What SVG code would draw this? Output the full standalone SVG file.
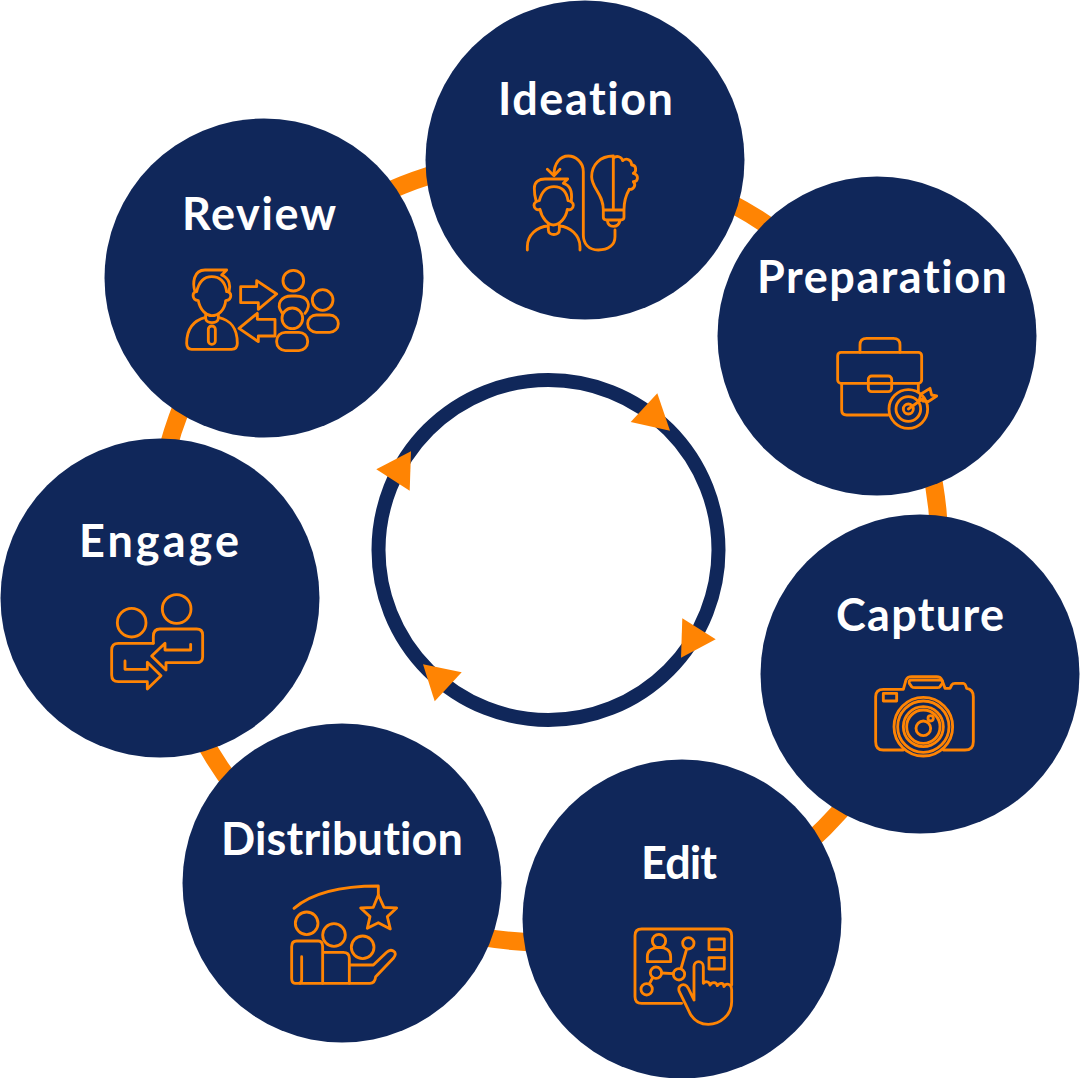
<svg xmlns="http://www.w3.org/2000/svg" width="1080" height="1078" viewBox="0 0 1080 1078">
<style>
.disc{fill:#10275a}
.lbl{font-family:"Lato","Open Sans",sans-serif;font-weight:700;font-size:45px;fill:#fff;font-variant-ligatures:none}
.ico{fill:none;stroke:#ff8403;stroke-width:8.5;stroke-linecap:round;stroke-linejoin:round}
.tri{fill:#ff8403}
</style>
<rect width="1080" height="1078" fill="#fff"/>
<g id="connectors">
<circle cx="547" cy="550" r="392.5" fill="none" stroke="#ff8403" stroke-width="18"/>
<circle cx="548.5" cy="550" r="170" fill="none" stroke="#10275a" stroke-width="14"/>
<polygon class="tri" points="657.3,393.3 630.7,422 670,430.7"/>
<polygon class="tri" points="682.3,618.3 681,657.7 715.7,639.3"/>
<polygon class="tri" points="423,664.3 461.7,672.3 434.7,701.3"/>
<polygon class="tri" points="411,451.3 376.3,469.3 409.7,490.7"/>
</g>
<g id="ideation">
<circle class="disc" cx="585" cy="160" r="159.5"/>
<text class="lbl" x="498" y="115" textLength="175">Ideation</text>
<g transform="translate(500 130) scale(.3333)" class="ico">
<path d="M82 360V350C82 315 110 290 145 288M178 288C210 290 240 315 240 350V360M145 285V300C145 318 178 318 178 300V285"/>
<path d="M118 212C112 212 102 218 102 226C102 236 112 242 120 238C125 265 145 285 160 285C178 285 198 265 202 238C210 242 220 236 220 226C220 218 210 212 204 212C200 185 185 170 162 170C140 170 125 185 118 212Z"/>
<path d="M108 212C103 195 103 185 103 175C103 155 118 147 135 147H203L190 160C210 165 217 185 214 212"/>
<path d="M345 300V320C345 345 325 360 295 360C265 360 250 340 250 315V125C250 95 225 78 205 78C180 78 162 100 162 135M142 118L162 137L180 118"/>
<path d="M340 78C300 78 275 105 275 140C275 175 310 190 310 240V262Q310 270 320 270H362Q372 270 372 262V240H310M372 240C372 215 378 195 388 178M340 78V240M322 272C325 295 355 295 360 272"/>
<path d="M340 85C350 75 365 80 368 92C380 82 395 90 395 105C410 105 410 125 400 130C418 135 415 155 400 155C410 165 400 180 388 178"/>
</g>
</g>
<g id="preparation">
<circle class="disc" cx="877" cy="336" r="159.5"/>
<text class="lbl" x="757" y="293" textLength="250">Preparation</text>
<g transform="translate(820 320) scale(.3333)" class="ico">
<path d="M120 97V75Q120 55 140 55H220Q240 55 240 75V97"/>
<rect x="53" y="97" width="252" height="93" rx="10"/>
<path d="M65 190V270Q65 285 80 285H205M295 190V215"/>
<rect x="145" y="168" width="70" height="47" rx="10"/>
<circle cx="265" cy="267" r="58"/><circle cx="265" cy="267" r="37"/><circle cx="265" cy="267" r="15"/>
<path d="M265 267L310 235M298 240L303 222L330 205L335 225L350 228L325 245L308 243"/>
</g>
</g>
<g id="capture">
<circle class="disc" cx="920" cy="674" r="159.5"/>
<text class="lbl" x="836" y="631" textLength="168">Capture</text>
<g transform="translate(860 660) scale(.3333)" class="ico">
<path d="M130 270H70Q47 270 47 245V110Q47 88 70 88H130L138 60Q142 50 155 50H230Q242 50 246 60L255 85H270L275 75Q278 70 285 70H310Q316 70 320 85Q340 88 340 110V245Q340 270 315 270H250"/>
<path d="M155 60H240Q250 60 247 70L240 80Q238 83 232 83H165Q158 83 155 80L148 70Q145 60 155 60Z"/>
<rect x="70" y="100" width="40" height="23"/>
<circle cx="190" cy="200" r="88"/><circle cx="190" cy="200" r="77"/><circle cx="190" cy="200" r="60"/><circle cx="190" cy="200" r="50"/><circle cx="190" cy="205" r="22"/><circle cx="212" cy="175" r="8"/>
</g>
</g>
<g id="edit">
<circle class="disc" cx="682" cy="919" r="159.5"/>
<text class="lbl" x="641" y="879" textLength="76">Edit</text>
<g transform="translate(620 915) scale(.3333)" class="ico">
<path d="M185 265H65Q45 265 45 245V62Q45 42 65 42H315Q335 42 335 62V210"/>
<circle cx="117" cy="78" r="20"/>
<path d="M82 140V125C82 105 100 97 117 97C135 97 152 105 152 125V140Z"/>
<circle cx="205" cy="85" r="17"/><circle cx="177" cy="178" r="17"/><circle cx="108" cy="173" r="17"/><circle cx="80" cy="223" r="17"/>
<path d="M200 102L183 161M125 174L160 176M98 188L88 207"/>
<rect x="267" y="72" width="46" height="32"/><rect x="267" y="128" width="46" height="34"/>
<path d="M222 255V155C222 135 250 135 250 155V205C255 198 268 198 270 210C275 200 290 200 292 212C300 200 312 205 312 215C318 203 335 205 335 225V260C335 300 300 328 265 328C235 328 215 310 205 285L178 230C170 210 195 200 205 220L222 255"/>
</g>
</g>
<g id="distribution">
<circle class="disc" cx="342" cy="883" r="159.5"/>
<text class="lbl" x="221" y="855" textLength="242">Distribution</text>
<g transform="translate(280 875) scale(.3333)" class="ico">
<path d="M42 100C100 50 190 33 295 33V60"/>
<path d="M295 60L312 97L350 99L322 125L331 162L295 143L262 160L270 125L242 99L280 97Z"/>
<circle cx="80" cy="145" r="34"/><circle cx="162" cy="180" r="34"/><circle cx="248" cy="217" r="34"/>
<path d="M60 325H45Q35 325 35 310V215Q35 198 50 198H115Q128 198 128 215V325M65 245V315Q65 325 55 325M128 232H190Q208 232 208 250V325"/>
<path d="M60 325H270Q285 325 287 305L340 250Q352 235 340 228Q330 222 320 232L280 270H210"/>
</g>
</g>
<g id="engage">
<circle class="disc" cx="160" cy="598" r="159.5"/>
<text class="lbl" x="79" y="557" textLength="160">Engage</text>
<g transform="translate(100 585) scale(.3333)" class="ico">
<circle cx="230" cy="72" r="43"/><circle cx="95" cy="113" r="43"/>
<path d="M160 175V155Q160 132 180 132H290Q308 132 308 150V215Q308 233 290 233H198V255L155 213L195 175V195H272V178"/>
<path d="M160 175H55Q35 175 35 195V270Q35 290 55 290H142V312L183 272L142 232V253H75V228"/>
</g>
</g>
<g id="review">
<circle class="disc" cx="264" cy="278" r="159.5"/>
<text class="lbl" x="182" y="230" textLength="154">Review</text>
<g transform="translate(175 260) scale(.3333)" class="ico">
<path d="M92 172C60 180 35 200 35 250Q35 268 50 268H170Q187 268 187 250C187 200 165 180 130 172"/>
<path d="M92 165V175C92 192 130 192 130 175V165"/>
<path d="M65 95C50 95 50 120 70 122C75 150 95 167 110 167C130 167 150 150 152 122C172 120 172 95 155 95C150 65 135 50 110 50C85 50 72 65 65 95Z"/>
<path d="M60 95C52 70 55 30 90 30H155L140 45C165 55 167 80 162 95"/>
<rect x="100" y="198" width="21" height="55" rx="10"/>
<path d="M197 80H245V62L305 102L250 148V128H197Z"/>
<path d="M300 178V228H250V245L192 205L247 160V178Z"/>
<circle cx="355" cy="62" r="31"/><circle cx="443" cy="120" r="31"/><circle cx="352" cy="175" r="31"/>
<path d="M322 160C300 130 320 108 350 108H362C400 108 410 135 390 160"/>
<rect x="398" y="165" width="92" height="52" rx="26"/>
<rect x="305" y="217" width="93" height="55" rx="26"/>
</g>
</g>
</svg>
